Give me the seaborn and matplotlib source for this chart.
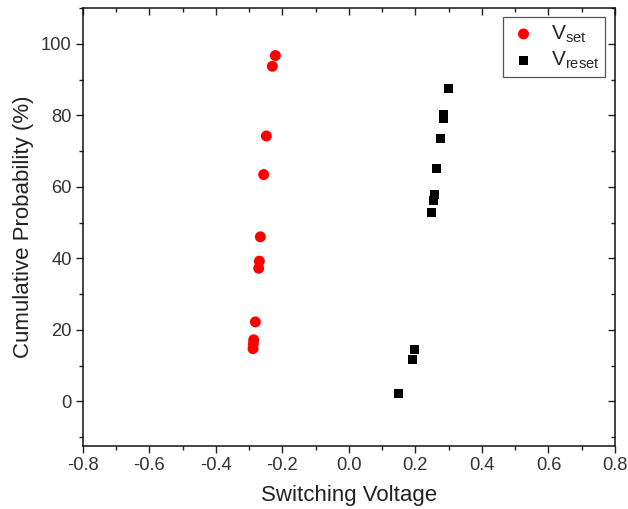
import numpy as np
import pandas as pd
import matplotlib
matplotlib.use("Agg")
import matplotlib.pyplot as plt
import seaborn as sns
from matplotlib.ticker import MultipleLocator

# Data
vset_voltage = [-0.221, -0.230, -0.248, -0.256, -0.266, -0.269, -0.271, -0.281, -0.286, -0.287, -0.288]
vset_prob = [96.7, 93.7, 74.2, 63.4, 46.0, 39.2, 37.2, 22.2, 17.2, 16.1, 14.7]
vreset_voltage = [0.299, 0.285, 0.283, 0.275, 0.264, 0.256, 0.254, 0.249, 0.197, 0.190, 0.150]
vreset_prob = [87.6, 80.3, 79.2, 73.4, 65.1, 57.9, 56.2, 52.8, 14.4, 11.7, 2.1]
x_ticks = [-0.8, -0.6, -0.4, -0.2, 0.0, 0.2, 0.4, 0.6, 0.8]
y_ticks = [0, 20, 40, 60, 80, 100]

sns.set_style("white")
plt.rcParams['font.family'] = ['Liberation Sans', 'DejaVu Sans']
plt.rcParams['mathtext.fontset'] = 'custom'
plt.rcParams['mathtext.rm'] = 'Liberation Sans'
plt.rcParams['mathtext.default'] = 'regular'

df_set = pd.DataFrame({"v": vset_voltage, "p": vset_prob})
df_reset = pd.DataFrame({"v": vreset_voltage, "p": vreset_prob})

fig = plt.figure(figsize=(6.28, 5.09), dpi=100)
ax = fig.add_axes([0.1317, 0.1238, 0.8476, 0.8605])

sns.scatterplot(data=df_set, x="v", y="p", ax=ax, color="#ff0000", marker="o",
                s=62, edgecolor="none", label=r"V$_{set}$", zorder=3)
sns.scatterplot(data=df_reset, x="v", y="p", ax=ax, color="black", marker="s",
                s=42, edgecolor="none", label=r"V$_{reset}$", zorder=3)

ax.set_xlim(-0.8, 0.8)
ax.set_ylim(-12.5, 110)
ax.set_xticks(x_ticks)
ax.set_xticklabels([f"{t:.1f}" for t in x_ticks])
ax.set_yticks(y_ticks)
ax.xaxis.set_minor_locator(MultipleLocator(0.1))
ax.yaxis.set_minor_locator(MultipleLocator(10))
ax.tick_params(axis='both', which='major', direction='out', length=5, width=1,
               labelsize=13.2, colors='#222222', labelcolor='#333333', pad=3,
               left=True, bottom=True)
ax.tick_params(axis='both', which='minor', direction='out', length=3, width=1,
               left=True, bottom=True, colors='#222222')

for sp in ax.spines.values():
    sp.set_color('#111111')
    sp.set_linewidth(1.1)

top = ax.secondary_xaxis('top')
top.set_xticks(x_ticks)
top.xaxis.set_minor_locator(MultipleLocator(0.1))
top.tick_params(which='major', direction='in', length=5, width=1, labeltop=False, colors='#222222')
top.tick_params(which='minor', direction='in', length=3, width=1, colors='#222222')
top.spines['top'].set_visible(False)

right = ax.secondary_yaxis('right')
right.set_yticks(y_ticks)
right.yaxis.set_minor_locator(MultipleLocator(10))
right.tick_params(which='major', direction='in', length=5, width=1, labelright=False, colors='#222222')
right.tick_params(which='minor', direction='in', length=3, width=1, colors='#222222')
right.spines['right'].set_visible(False)

ax.set_xlabel("Switching Voltage", fontsize=16, color='#222222', labelpad=8)
ax.set_ylabel("Cumulative Probability (%)", fontsize=16, color='#222222', labelpad=5)

leg = ax.legend(loc='upper right', bbox_to_anchor=(0.982, 0.979), fontsize=15,
                frameon=True, fancybox=False, edgecolor='#555555', framealpha=1,
                handletextpad=0.6, borderpad=0.3, labelspacing=0.25, markerscale=1.0,
                handlelength=1.4, borderaxespad=0)
leg.get_frame().set_linewidth(0.9)

fig.savefig("out.png", dpi=100)
